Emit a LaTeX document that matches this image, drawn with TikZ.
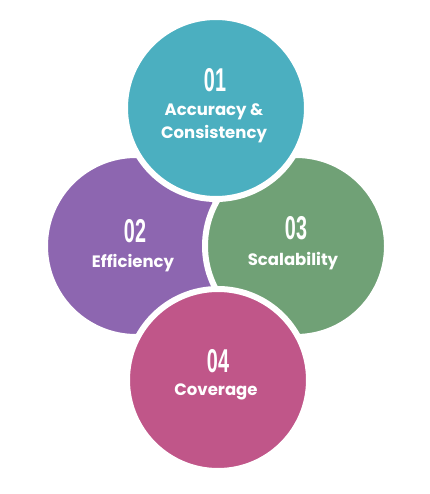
\documentclass[tikz,border=0pt]{standalone}
\usepackage{fontspec}
\setmainfont{Poppins}
\newfontfamily\numfont[FakeStretch=0.6]{Liberation Sans}
\begin{document}
\begin{tikzpicture}[x=1pt,y=-1pt,
  bub/.style={circle,minimum size=182pt,inner sep=0pt,draw=white,line width=6pt,fill=#1},
  num/.style={text=white,font=\numfont\bfseries\fontsize{33}{33}\selectfont},
  lab/.style={text=white,font=\bfseries\fontsize{16.5}{23}\selectfont,align=center}]
\definecolor{cteal}{HTML}{4BAFC0}
\definecolor{cpurple}{HTML}{8D66B0}
\definecolor{cgreen}{HTML}{70A176}
\definecolor{cpink}{HTML}{C05689}
\useasboundingbox[fill=white] (0,0) rectangle (429,494);
\node[bub=cpurple] (c2) at (136,246) {};
\node[bub=cgreen] (c3) at (296,246) {};
\node[bub=cteal] (c1) at (216,108) {};
\node[bub=cpink] (c4) at (218,380) {};
\node[num] (n1) at (215,80) {01};
\node[lab] (l1) at (214,123) {Accuracy \&\\Consistency};
\node[num] (n2) at (135,231) {02};
\node[lab] (l2) at (133,263) {Efficiency};
\node[num] (n3) at (296,228) {03};
\node[lab] (l3) at (293,261) {Scalability};
\node[num] (n4) at (218,361) {04};
\node[lab] (l4) at (216,392) {Coverage};
\end{tikzpicture}
\end{document}
